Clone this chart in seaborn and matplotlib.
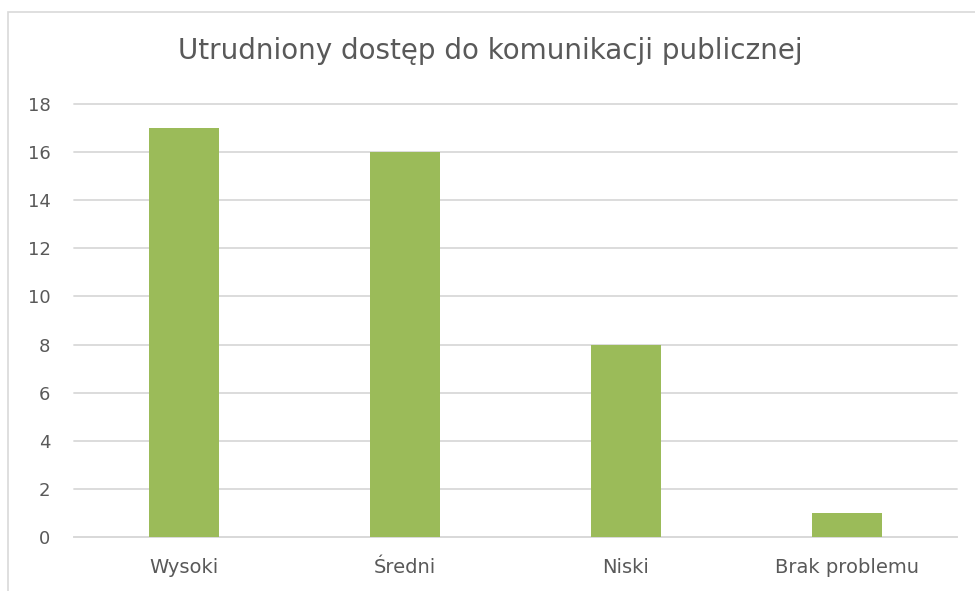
import matplotlib
matplotlib.use('Agg')
import matplotlib.pyplot as plt
import matplotlib.patches as patches
import seaborn as sns
import pandas as pd

categories = ['Wysoki', 'Średni', 'Niski', 'Brak problemu']
values = [17, 16, 8, 1]
y_ticks = [0, 2, 4, 6, 8, 10, 12, 14, 16, 18]

df = pd.DataFrame({'poziom': categories, 'liczba': values})

sns.set_theme(style='white')
plt.rcParams['font.family'] = ['DejaVu Sans']

fig = plt.figure(figsize=(9.75, 5.91), dpi=100)
ax = fig.add_axes([74 / 975, 1 - 537 / 591, (957 - 74) / 975, (537 - 104) / 591])

sns.barplot(data=df, x='poziom', y='liczba', color='#9bbb59', width=0.317,
            saturation=1, linewidth=0, ax=ax, zorder=3)

ax.set_ylim(0, 18)
ax.set_xlim(-0.5, 3.5)
ax.set_yticks(y_ticks)
ax.yaxis.grid(True, color='#d9d9d9', linewidth=1.3, zorder=0)
for gl in ax.get_ygridlines():
    gl.set_clip_on(False)
ax.set_axisbelow(True)
for s in ['top', 'right', 'left']:
    ax.spines[s].set_visible(False)
ax.spines['bottom'].set_color('#d9d9d9')
ax.spines['bottom'].set_linewidth(1.3)
ax.tick_params(axis='both', length=0, colors='#595959')
ax.tick_params(axis='x', pad=15, labelsize=14)
ax.tick_params(axis='y', pad=17, labelsize=13)
ax.set_xlabel('')
ax.set_ylabel('')

fig.text(0.503, 1 - 51 / 591, 'Utrudniony dostęp do komunikacji publicznej',
         ha='center', va='center', fontsize=20, color='#595959')

# chart frame (cut off at right and bottom)
fig.patches.append(patches.Rectangle((8 / 975, -0.1), 1.2, 1 - 12 / 591 + 0.1,
                                     transform=fig.transFigure, fill=False,
                                     edgecolor='#d9d9d9', linewidth=1.2))

fig.savefig('out.png', dpi=100)
